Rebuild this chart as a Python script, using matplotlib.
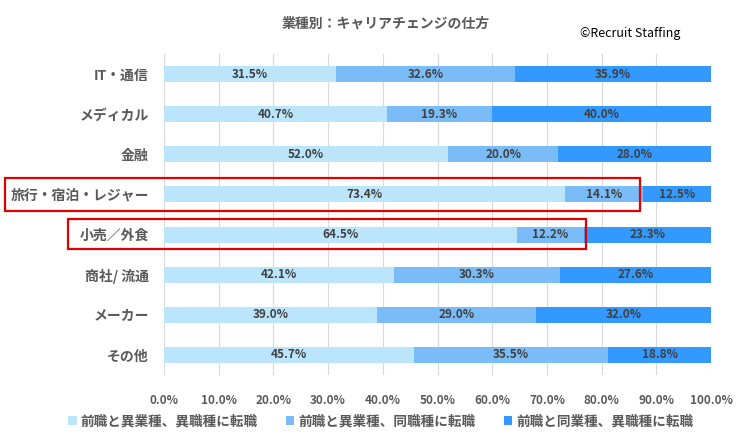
import matplotlib
matplotlib.use("Agg")
import matplotlib.pyplot as plt
from matplotlib.patches import Rectangle

plt.rcParams['font.family'] = ['Noto Sans CJK JP', 'DejaVu Sans']

categories = ["IT・通信", "メディカル", "金融", "旅行・宿泊・レジャー", "小売／外食", "商社/ 流通", "メーカー", "その他"]
series_names = ["前職と異業種、異職種に転職", "前職と異業種、同職種に転職", "前職と同業種、異職種に転職"]
diff_ind_diff_job = [31.5, 40.7, 52.0, 73.4, 64.5, 42.1, 39.0, 45.7]
diff_ind_same_job = [32.6, 19.3, 20.0, 14.1, 12.2, 30.3, 29.0, 35.5]
same_ind_diff_job = [35.9, 40.0, 28.0, 12.5, 23.3, 27.6, 32.0, 18.8]
colors = ["#BBE5FB", "#7ABCF7", "#3399FF"]

fig = plt.figure(figsize=(7.48, 4.47), dpi=100)
ax = fig.add_axes([164/748, 1-375/447, (711-164)/748, (375-54)/447])

ypos = list(range(len(categories)))
left = [0.0]*len(categories)
for vals, col, name in zip([diff_ind_diff_job, diff_ind_same_job, same_ind_diff_job], colors, series_names):
    ax.barh(ypos, vals, left=left, height=0.4, color=col, label=name, zorder=2)
    for y, v, l in zip(ypos, vals, left):
        ax.text(l + v/2, y, f"{v:.1f}%", ha='center', va='center', fontsize=8.5,
                fontweight='bold', color='#404040', zorder=3)
    left = [a + b for a, b in zip(left, vals)]

ax.set_xlim(0, 100)
ax.set_ylim(len(categories) - 0.5, -0.5)
ax.set_yticks(ypos)
ax.set_yticklabels(categories, fontsize=10, fontweight='bold', color='#595959')
ax.set_xticks(range(0, 101, 10))
ax.set_xticklabels([f"{t:.1f}%" for t in range(0, 101, 10)], fontsize=8.5, fontweight='bold', color='#595959')
ax.tick_params(length=0)
ax.tick_params(axis='y', pad=11)
ax.tick_params(axis='x', pad=14)
ax.grid(axis='x', color='#D9D9D9', linewidth=0.8, zorder=0)
for s in ax.spines.values():
    s.set_visible(False)

fig.text(386/748, 1-24/447, "業種別：キャリアチェンジの仕方", ha='center', va='center',
         fontsize=10, fontweight='bold', color='#595959')
fig.text(580/748, 1-34/447, "©Recruit Staffing", ha='left', va='center', fontsize=9, color='black')

leg = fig.legend(loc='center', bbox_to_anchor=(381/748, 1-421/447), ncol=3, frameon=False,
                 fontsize=9.8, handlelength=0.6, handleheight=0.6, handletextpad=0.3, columnspacing=2.1)
for t in leg.get_texts():
    t.set_color('#595959')
    t.set_fontweight('bold')

# red highlight boxes
for x0, y0, x1, y1 in [(5, 178, 640, 211), (68, 219, 586, 249)]:
    fig.patches.append(Rectangle((x0/748, 1-y1/447), (x1-x0)/748, (y1-y0)/447,
                                 transform=fig.transFigure, fill=False, edgecolor='#E00000', linewidth=1.6))

fig.savefig("out.png", dpi=100)
